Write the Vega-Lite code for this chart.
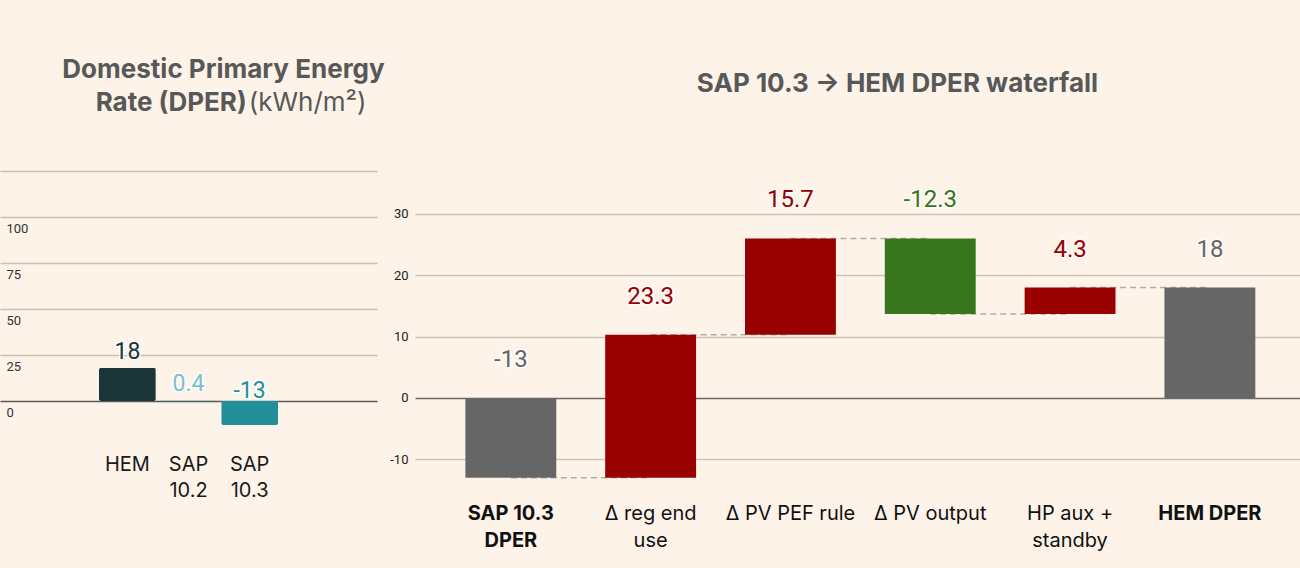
{
  "$schema": "https://vega.github.io/schema/vega-lite/v6.json",
  "background": "#fdf3e9",
  "padding": {"top": 57, "left": 0, "right": 0, "bottom": 19},
  "bounds": "flush",
  "spacing": 38,
  "resolve": {"scale": {"color": "independent"}},
  "config": {
    "view": {"stroke": null},
    "font": "Inter",
    "title": {
      "font": "Inter",
      "fontSize": 26,
      "fontWeight": "bold",
      "color": "#585858",
      "anchor": "middle",
      "frame": "group",
      "lineHeight": 33,
      "subtitleFont": "Inter",
      "subtitleFontSize": 26,
      "subtitleFontWeight": "normal",
      "subtitleColor": "#585858",
      "subtitleLineHeight": 33
    }
  },
  "datasets": {
    "dper": [
      {"scheme": "HEM", "dper": 18},
      {"scheme": "SAP 10.2", "dper": 0.4},
      {"scheme": "SAP 10.3", "dper": -13}
    ],
    "steps": [
      {"step": "SAP 10.3 DPER", "lo": -13, "hi": 0, "change": -13, "kind": "total"},
      {"step": "Δ reg end use", "lo": -13, "hi": 10.3, "change": 23.3, "kind": "increase"},
      {"step": "Δ PV PEF rule", "lo": 10.3, "hi": 26, "change": 15.7, "kind": "increase"},
      {"step": "Δ PV output", "lo": 13.7, "hi": 26, "change": -12.3, "kind": "decrease"},
      {"step": "HP aux + standby", "lo": 13.7, "hi": 18, "change": 4.3, "kind": "increase"},
      {"step": "HEM DPER", "lo": 0, "hi": 18, "change": 18, "kind": "total"}
    ],
    "links": [
      {"from": "SAP 10.3 DPER", "to": "Δ reg end use", "level": -13},
      {"from": "Δ reg end use", "to": "Δ PV PEF rule", "level": 10.3},
      {"from": "Δ PV PEF rule", "to": "Δ PV output", "level": 26},
      {"from": "Δ PV output", "to": "HP aux + standby", "level": 13.7},
      {"from": "HP aux + standby", "to": "HEM DPER", "level": 18}
    ]
  },
  "hconcat": [
    {
      "width": 377,
      "height": 276,
      "title": {
        "text": ["Domestic Primary Energy", "Rate (DPER)\u00a0\u00a0\u00a0\u00a0\u00a0\u00a0\u00a0\u00a0\u00a0\u00a0\u00a0\u00a0\u00a0\u00a0\u00a0\u00a0\u00a0\u200b"],
        "subtitle": "\u200b\u00a0\u00a0\u00a0\u00a0\u00a0\u00a0\u00a0\u00a0\u00a0\u00a0\u00a0\u00a0\u00a0\u00a0\u00a0\u00a0\u00a0\u00a0\u00a0\u00a0\u00a0\u00a0\u00a0(kWh/m²)",
        "subtitlePadding": -26,
        "dx": 35,
        "offset": 55
      },
      "data": {"name": "dper"},
      "encoding": {
        "x": {
          "field": "scheme",
          "type": "nominal",
          "scale": {"domain": ["", "HEM", "SAP 10.2", "SAP 10.3", " "], "paddingInner": 0.07, "paddingOuter": 0.62},
          "axis": {
            "title": null,
            "domain": false,
            "ticks": false,
            "labelAngle": 0,
            "labelFont": "Inter",
            "labelFontSize": 20,
            "labelLineHeight": 26,
            "labelColor": "#1a1a1a",
            "labelPadding": 7,
            "labelExpr": "trim(datum.value) == '' ? '' : split(datum.value, ' ')"
          }
        },
        "color": {
          "field": "scheme",
          "type": "nominal",
          "scale": {"domain": ["HEM", "SAP 10.2", "SAP 10.3"], "range": ["#1c3538", "#7cc1c8", "#22909a"]},
          "legend": null
        }
      },
      "layer": [
        {
          "mark": {"type": "bar", "cornerRadius": 2},
          "encoding": {
            "y": {
              "field": "dper",
              "type": "quantitative",
              "scale": {"domain": [-25, 125], "nice": false},
              "axis": {
                "title": null,
                "domain": false,
                "ticks": false,
                "values": [0, 25, 50, 75, 100, 125],
                "labelExpr": "datum.value == 125 ? '' : datum.label",
                "labelAlign": "left",
                "labelBaseline": "top",
                "labelPadding": -6,
                "labelOffset": 5,
                "labelFont": "Roboto",
                "labelFontSize": 13,
                "labelColor": "#333333",
                "gridColor": {"condition": {"test": "datum.value === 0", "value": "#5f5a56"}, "value": "#cbbfb5"},
                "gridWidth": 1.5
              }
            }
          }
        },
        {
          "transform": [{"filter": "datum.dper >= 0"}],
          "encoding": {
            "y": {"field": "dper", "type": "quantitative"},
            "text": {"field": "dper", "type": "nominal"}
          },
          "layer": [
            {"mark": {"type": "text", "font": "Roboto", "fontSize": 23, "dy": -16, "stroke": "#ffffff", "strokeWidth": 3, "strokeOpacity": 0.85, "strokeJoin": "round"}},
            {"mark": {"type": "text", "font": "Roboto", "fontSize": 23, "dy": -16}}
          ]
        },
        {
          "transform": [{"filter": "datum.dper < 0"}],
          "encoding": {
            "y": {"datum": 0, "type": "quantitative"},
            "text": {"field": "dper", "type": "nominal"}
          },
          "layer": [
            {"mark": {"type": "text", "font": "Roboto", "fontSize": 23, "dy": -10, "stroke": "#ffffff", "strokeWidth": 3, "strokeOpacity": 0.85, "strokeJoin": "round"}},
            {"mark": {"type": "text", "font": "Roboto", "fontSize": 23, "dy": -10}}
          ]
        }
      ]
    },
    {
      "width": 885,
      "height": 319,
      "title": {
        "text": "SAP 10.3 → HEM DPER waterfall",
        "dx": 40,
        "offset": 74
      },
      "layer": [
        {
          "data": {"name": "links"},
          "mark": {"type": "rule", "strokeDash": [6, 4], "strokeWidth": 1.5, "color": "#b3aca6"},
          "encoding": {
            "x": {
              "field": "from",
              "type": "nominal",
              "scale": {"domain": ["SAP 10.3 DPER", "Δ reg end use", "Δ PV PEF rule", "Δ PV output", "HP aux + standby", "HEM DPER"], "paddingInner": 0.35, "paddingOuter": 0.34, "align": 0.53},
              "axis": {
                "title": null,
                "domain": false,
                "ticks": false,
                "labelAngle": 0,
                "labelFont": "Inter",
                "labelFontSize": 20,
                "labelLineHeight": 27,
                "labelColor": "#111111",
                "labelPadding": 13,
                "labelFontWeight": {"condition": {"test": "datum.value == 'SAP 10.3 DPER' || datum.value == 'HEM DPER'", "value": "bold"}, "value": "normal"},
                "labelExpr": "datum.value == 'SAP 10.3 DPER' ? ['SAP 10.3', 'DPER'] : datum.value == 'Δ reg end use' ? ['Δ reg end', 'use'] : datum.value == 'HP aux + standby' ? ['HP aux +', 'standby'] : datum.value"
              }
            },
            "x2": {"field": "to"},
            "y": {
              "field": "level",
              "type": "quantitative",
              "scale": {"domain": [-15, 37], "nice": false},
              "axis": {
                "title": null,
                "domain": false,
                "ticks": false,
                "values": [-10, 0, 10, 20, 30],
                "labelPadding": 7,
                "labelFont": "Roboto",
                "labelFontSize": 13,
                "labelColor": "#222222",
                "labelExpr": "replace(datum.label, '−', '-')",
                "gridColor": {"condition": {"test": "datum.value === 0", "value": "#6e6a66"}, "value": "#cfc3b9"},
                "gridWidth": 1.5
              }
            }
          }
        },
        {
          "data": {"name": "steps"},
          "encoding": {
            "x": {
              "field": "step",
              "type": "nominal",
              "scale": {"domain": ["SAP 10.3 DPER", "Δ reg end use", "Δ PV PEF rule", "Δ PV output", "HP aux + standby", "HEM DPER"], "paddingInner": 0.35, "paddingOuter": 0.34, "align": 0.53},
              "axis": {
                "title": null,
                "domain": false,
                "ticks": false,
                "labelAngle": 0,
                "labelFont": "Inter",
                "labelFontSize": 20,
                "labelLineHeight": 27,
                "labelColor": "#111111",
                "labelPadding": 13,
                "labelFontWeight": {"condition": {"test": "datum.value == 'SAP 10.3 DPER' || datum.value == 'HEM DPER'", "value": "bold"}, "value": "normal"},
                "labelExpr": "datum.value == 'SAP 10.3 DPER' ? ['SAP 10.3', 'DPER'] : datum.value == 'Δ reg end use' ? ['Δ reg end', 'use'] : datum.value == 'HP aux + standby' ? ['HP aux +', 'standby'] : datum.value"
              }
            },
            "color": {
              "field": "kind",
              "type": "nominal",
              "scale": {"domain": ["total", "increase", "decrease"], "range": ["#666666", "#990000", "#38761d"]},
              "legend": null
            }
          },
          "layer": [
            {
              "mark": {"type": "bar"},
              "encoding": {
                "y": {"field": "lo", "type": "quantitative"},
                "y2": {"field": "hi"}
              }
            },
            {
              "mark": {"type": "text", "font": "Roboto", "fontSize": 24, "dy": -38, "stroke": "#ffffff", "strokeWidth": 3, "strokeOpacity": 0.85, "strokeJoin": "round"},
              "encoding": {
                "y": {"field": "hi", "type": "quantitative"},
                "text": {"field": "change", "type": "nominal"}
              }
            },
            {
              "mark": {"type": "text", "font": "Roboto", "fontSize": 24, "dy": -38},
              "encoding": {
                "y": {"field": "hi", "type": "quantitative"},
                "text": {"field": "change", "type": "nominal"}
              }
            }
          ]
        }
      ]
    }
  ]
}
